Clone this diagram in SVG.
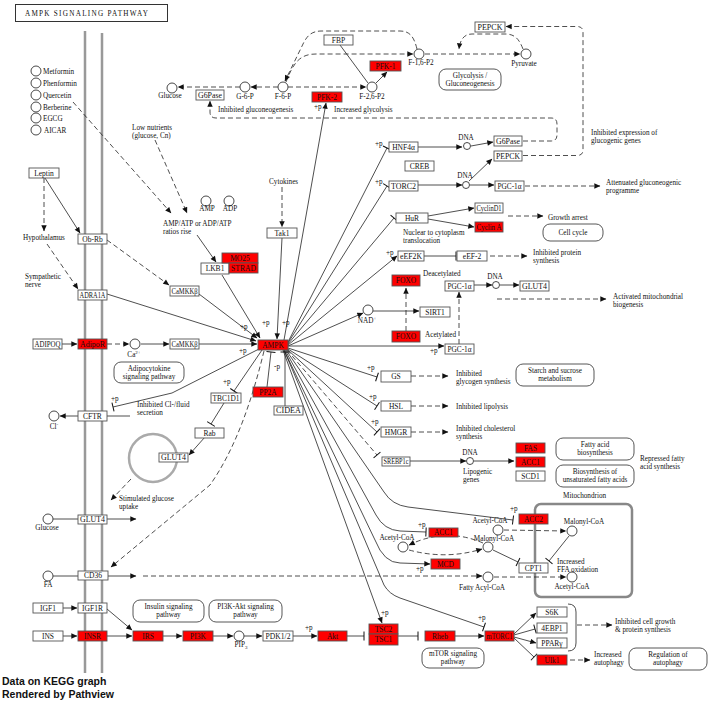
<svg xmlns="http://www.w3.org/2000/svg" width="709" height="701" viewBox="0 0 709 701">
<style>
text{font-family:"Liberation Serif","Times New Roman",serif;font-size:7.2px;fill:#111}
.n rect{fill:#fff;stroke:#555;stroke-width:0.9}
.r rect{fill:#ff0000;stroke:#555;stroke-width:0.9}
.n text,.r text{font-size:7.5px;text-anchor:middle}
.c circle{fill:#fff;stroke:#333;stroke-width:0.9}
.c text{text-anchor:middle}
.pw rect{fill:#fff;stroke:#444;stroke-width:0.9}
.pw text{text-anchor:middle}
#edges path{fill:none;stroke:#222;stroke-width:0.8}
#edges .d{stroke-dasharray:5,3}
#edges .a{marker-end:url(#arr)}
#edges .i{marker-end:url(#bar)}
</style>
<defs>
<marker id="arr" viewBox="0 0 10 10" refX="9.5" refY="5" markerWidth="7" markerHeight="6" orient="auto" markerUnits="userSpaceOnUse"><path d="M0,0.5 L10,5 L0,9.5z" fill="#111"/></marker>
<marker id="bar" viewBox="-2 -5 4 10" refX="0" refY="0" markerWidth="4" markerHeight="10" orient="auto" markerUnits="userSpaceOnUse"><path d="M0,-4.5 V4.5" stroke="#111" stroke-width="1"/></marker>
</defs>
<rect width="709" height="701" fill="#fff"/>

<g id="title"><rect x="15.5" y="4.5" width="152" height="17" fill="#fff" stroke="#333"/><text x="25" y="16" font-size="9" textLength="123">AMPK SIGNALING PATHWAY</text></g>

<g id="membrane" stroke="#999" stroke-width="2.5"><line x1="85" y1="31" x2="85" y2="673"/><line x1="102" y1="33" x2="102" y2="673"/></g>
<g id="vesicle"><circle cx="153" cy="458" r="24" fill="none" stroke="#aaa" stroke-width="2.5"/></g>
<g id="mitochondrion"><rect x="535" y="504" width="97" height="93" rx="6" fill="none" stroke="#888" stroke-width="2.5"/><text x="563" y="498">Mitochondrion</text></g>

<g id="edges">
<path class="d a" d="M240,87 H178"/>
<path class="d a" d="M278,87 H251"/>
<path class="d a" d="M288,87 H366"/>
<path class="d a" d="M286,82 C293,64 299,54 316,54 H413"/>
<path class="d a" d="M417,49 C414,37 410,31 400,31 H322 C312,31 308,35 304,42 L285,81"/>
<path d="M340,45 L368,83"/>
<path class="a" d="M376,83 L387,72"/>
<path class="d a" d="M425,54 H520"/>
<path class="d a" d="M523,49 C519,39 515,34 505,34 H472 C464,34 460,40 459,49"/>
<path class="d a" d="M523,155.5 H577 Q583,155.5 583,150 V32 Q583,26.5 577,26.5 H506"/>
<path class="d a" d="M523,141 H551 Q557,141 557,135 V124 Q557,118 551,118 H216 Q210,118 210,112 V101"/>
<path class="a" d="M284,340 L326,103"/>
<path class="i" d="M288,342 L387,148"/>
<path class="i" d="M288,343 L387,186"/>
<path class="i" d="M288,344 L394,218"/>
<path class="a" d="M288,345 L397,256"/>
<path class="a" d="M288,346 L363,313"/>
<path class="a" d="M288,346 H444"/>
<path class="i" d="M288,348 L377,377"/>
<path class="i" d="M288,349 L377,406"/>
<path class="i" d="M288,350 L377,432"/>
<path class="d i" d="M287,350 L377,455"/>
<path class="i" d="M286,350 L384,492 Q392,505 408,507 L513,520"/>
<path class="i" d="M285,350 L376,515 Q384,530 400,531 L426,532"/>
<path class="a" d="M284,350 L375,540 Q384,563 400,563 L430,564"/>
<path class="a" d="M283,350 L382,623"/>
<path class="i" d="M284,350 L384,585 Q389,594 400,598 L484,627"/>
<path class="a" d="M222,275 L260,338"/>
<path class="a" d="M199,294 L257,338"/>
<path class="a" d="M107,294 L256,341"/>
<path class="a" d="M199,344 H257"/>
<path class="a" d="M282,238 L277,339"/>
<path class="d a" d="M282,187 V227"/>
<path class="a" d="M197,235 L216,262"/>
<path class="d a" d="M73,102 L171,213"/>
<path class="d a" d="M155,140 L187,213"/>
<path class="a" d="M45,178 L80,233"/>
<path class="d a" d="M44,178 V231"/>
<path class="d a" d="M47,244 L78,289"/>
<path class="d a" d="M107,240 L169,285"/>
<path class="a" d="M62,344 H77"/>
<path class="d a" d="M107,344 H129"/>
<path class="a" d="M141,344 H169"/>
<path class="i" d="M262,350 L234,391"/>
<path class="i" d="M259,349 L172,393 L113,407"/>
<path class="d a" d="M264,351 C252,400 236,448 210,485 L111,567"/>
<path class="i" d="M267,387 L271,352"/>
<path class="i" d="M285,406 V352"/>
<path class="i" d="M224,403 L211,424"/>
<path class="a" d="M205,437 L189,455"/>
<path class="d a" d="M131,479 L111,500"/>
<path class="a" d="M78,416 H60"/>
<path d="M107,416 H130"/>
<path d="M53,519 H78"/>
<path class="a" d="M107,519 H136"/>
<path d="M53,576 H78"/>
<path class="a" d="M108,576 H136"/>
<path class="d a" d="M143,576 H482"/>
<path class="d a" d="M494,577 H566"/>
<path class="d a" d="M504,530 L566,531"/>
<path class="i" d="M569,536 L549,561"/>
<path class="i" d="M493,550 L518,562"/>
<path class="d a" d="M483,543 Q446,527 409,545"/>
<path class="d a" d="M409,550 Q446,560 482,549"/>
<path class="a" d="M63,608 H77"/>
<path class="a" d="M63,636 H77"/>
<path class="a" d="M107,609 L132,630"/>
<path class="a" d="M107,636 H132"/>
<path class="a" d="M163,636 H182"/>
<path class="a" d="M213,636 H233"/>
<path class="a" d="M244,636 H262"/>
<path class="a" d="M293,636 H317"/>
<path class="i" d="M347,636 H364"/>
<path class="i" d="M398,636 H418"/>
<path class="a" d="M455,636 H484"/>
<path class="a" d="M514,634 L536,613"/>
<path class="i" d="M514,635 L535,629"/>
<path class="a" d="M514,637 L536,643"/>
<path class="i" d="M514,638 L534,657"/>
<path d="M568,604 Q576,604 576,612 V643 Q576,651 568,651"/>
<path class="d a" d="M577,625 H612"/>
<path class="d a" d="M570,660 H590"/>
<path class="a" d="M418,147 H462"/>
<path class="a" d="M471,146 L493,142"/>
<path class="a" d="M469,181 L492,159"/>
<path class="a" d="M418,185 H462"/>
<path class="a" d="M470,185 H494"/>
<path class="d a" d="M525,186 H600"/>
<path class="a" d="M428,216 L474,208"/>
<path class="a" d="M428,219 L474,227"/>
<path class="d a" d="M508,216 H543"/>
<path class="i" d="M424,256 H456"/>
<path class="d a" d="M490,256 H527"/>
<path class="d a" d="M406,331 V288"/>
<path class="a" d="M373,311 H419"/>
<path class="d a" d="M459,344 V292"/>
<path class="a" d="M474,285 H492"/>
<path class="a" d="M500,285 H519"/>
<path class="d a" d="M497,299 H606"/>
<path class="d a" d="M411,376 H448"/>
<path class="d a" d="M411,406 H448"/>
<path class="d a" d="M411,432 H448"/>
<path class="a" d="M410,461 H466"/>
<path class="a" d="M474,461 H514"/>
</g>

<g id="g_g6pase1" class="n"><rect x="196" y="90" width="28" height="10"/><text x="210" y="97.7" textLength="24" lengthAdjust="spacingAndGlyphs">G6Pase</text></g>
<g id="g_fbp" class="n"><rect x="324" y="35" width="29" height="10"/><text x="338.5" y="42.7">FBP</text></g>
<g id="g_pfk1" class="r"><rect x="370" y="61" width="31" height="10"/><text x="385.5" y="68.7">PFK-1</text></g>
<g id="g_pfk2" class="r"><rect x="312" y="92" width="30" height="10"/><text x="327" y="99.7">PFK-2</text></g>
<g id="g_pepck1" class="n"><rect x="475" y="22" width="30" height="10"/><text x="490" y="29.7" textLength="25" lengthAdjust="spacingAndGlyphs">PEPCK</text></g>
<g id="g_hnf4a" class="n"><rect x="389" y="142" width="29" height="10"/><text x="403.5" y="149.7">HNF4α</text></g>
<g id="g_creb" class="n"><rect x="405" y="161" width="29" height="10"/><text x="419.5" y="168.7">CREB</text></g>
<g id="g_g6pase2" class="n"><rect x="494" y="136" width="28" height="10"/><text x="508" y="143.7" textLength="24" lengthAdjust="spacingAndGlyphs">G6Pase</text></g>
<g id="g_pepck2" class="n"><rect x="494" y="151" width="28" height="10"/><text x="508" y="158.7" textLength="24" lengthAdjust="spacingAndGlyphs">PEPCK</text></g>
<g id="g_torc2" class="n"><rect x="389" y="181" width="29" height="10"/><text x="403.5" y="188.7" textLength="25" lengthAdjust="spacingAndGlyphs">TORC2</text></g>
<g id="g_pgc1a1" class="n"><rect x="495" y="181" width="29" height="10"/><text x="509.5" y="188.7" textLength="24" lengthAdjust="spacingAndGlyphs">PGC-1α</text></g>
<g id="g_hur" class="n"><rect x="396" y="213" width="32" height="10"/><text x="412" y="220.7">HuR</text></g>
<g id="g_cyclind1" class="n"><rect x="475" y="203" width="28" height="10"/><text x="489" y="210.7" textLength="25" lengthAdjust="spacingAndGlyphs">CyclinD1</text></g>
<g id="g_cyclina" class="r"><rect x="475" y="222" width="28" height="10"/><text x="489" y="229.7" textLength="25" lengthAdjust="spacingAndGlyphs">Cyclin A</text></g>
<g id="g_eef2k" class="n"><rect x="398" y="251" width="26" height="10"/><text x="411" y="258.7" textLength="22" lengthAdjust="spacingAndGlyphs">eEF2K</text></g>
<g id="g_eef2" class="n"><rect x="457" y="251" width="30" height="10"/><text x="472" y="258.7">eEF-2</text></g>
<g id="g_foxo1" class="r"><rect x="392" y="275" width="28" height="11"/><text x="406" y="283.2">FOXO</text></g>
<g id="g_foxo2" class="r"><rect x="392" y="331" width="28" height="11"/><text x="406" y="339.2">FOXO</text></g>
<g id="g_sirt1" class="n"><rect x="420" y="307" width="30" height="10"/><text x="435" y="314.7">SIRT1</text></g>
<g id="g_pgc1a2" class="n"><rect x="445" y="281" width="29" height="10"/><text x="459.5" y="288.7" textLength="24" lengthAdjust="spacingAndGlyphs">PGC-1α</text></g>
<g id="g_glut4r" class="n"><rect x="520" y="281" width="29" height="10"/><text x="534.5" y="288.7" textLength="25" lengthAdjust="spacingAndGlyphs">GLUT4</text></g>
<g id="g_pgc1a3" class="n"><rect x="445" y="344" width="29" height="10"/><text x="459.5" y="351.7" textLength="24" lengthAdjust="spacingAndGlyphs">PGC-1α</text></g>
<g id="g_ampk" class="r"><rect x="258" y="340" width="30" height="10"/><text x="273" y="347.7">AMPK</text></g>
<g id="g_leptin" class="n"><rect x="29" y="168" width="30" height="10"/><text x="44" y="175.7">Leptin</text></g>
<g id="g_obrb" class="n"><rect x="78" y="234" width="29" height="10"/><text x="92.5" y="241.7">Ob-Rb</text></g>
<g id="g_adra1a" class="n"><rect x="78" y="290" width="29" height="10"/><text x="92.5" y="297.7" textLength="26" lengthAdjust="spacingAndGlyphs">ADRA1A</text></g>
<g id="g_camkkb1" class="n"><rect x="170" y="286" width="29" height="10"/><text x="184.5" y="293.7" textLength="26" lengthAdjust="spacingAndGlyphs">CaMKKβ</text></g>
<g id="g_adipoq" class="n"><rect x="33" y="339" width="29" height="10"/><text x="47.5" y="346.7" textLength="26" lengthAdjust="spacingAndGlyphs">ADIPOQ</text></g>
<g id="g_adipor" class="r"><rect x="78" y="339" width="29" height="10"/><text x="92.5" y="346.7" textLength="25" lengthAdjust="spacingAndGlyphs">AdipoR</text></g>
<g id="g_camkkb2" class="n"><rect x="170" y="339" width="29" height="10"/><text x="184.5" y="346.7" textLength="26" lengthAdjust="spacingAndGlyphs">CaMKKβ</text></g>
<g id="g_lkb1" class="n"><rect x="201" y="263" width="28" height="11"/><text x="215" y="271.2">LKB1</text></g>
<g id="g_mo25" class="r"><rect x="222" y="253" width="36" height="10"/><text x="240" y="260.7">MO25</text></g>
<g id="g_strad" class="r"><rect x="229" y="263" width="29" height="10"/><text x="243.5" y="270.7" textLength="25" lengthAdjust="spacingAndGlyphs">STRAD</text></g>
<g id="g_tak1" class="n"><rect x="267" y="228" width="30" height="10"/><text x="282" y="235.7">Tak1</text></g>
<g id="g_tbc1d1" class="n"><rect x="211" y="393" width="30" height="10"/><text x="226" y="400.7" textLength="27" lengthAdjust="spacingAndGlyphs">TBC1D1</text></g>
<g id="g_rab" class="n"><rect x="195" y="428" width="29" height="10"/><text x="209.5" y="435.7">Rab</text></g>
<g id="g_glut4c" class="n"><rect x="159" y="453" width="29" height="9"/><text x="173.5" y="460.2" textLength="25" lengthAdjust="spacingAndGlyphs">GLUT4</text></g>
<g id="g_cftr" class="n"><rect x="78" y="411" width="29" height="10"/><text x="92.5" y="418.7">CFTR</text></g>
<g id="g_glut4m" class="n"><rect x="78" y="515" width="29" height="9"/><text x="92.5" y="522.2" textLength="25" lengthAdjust="spacingAndGlyphs">GLUT4</text></g>
<g id="g_cd36" class="n"><rect x="78" y="571" width="30" height="9"/><text x="93" y="578.2">CD36</text></g>
<g id="g_pp2a" class="r"><rect x="253" y="387" width="30" height="10"/><text x="268" y="394.7">PP2A</text></g>
<g id="g_cidea" class="n"><rect x="274" y="406" width="29" height="9"/><text x="288.5" y="413.2" textLength="25" lengthAdjust="spacingAndGlyphs">CIDEA</text></g>
<g id="g_gs" class="n"><rect x="381" y="371" width="30" height="11"/><text x="396" y="379.2">GS</text></g>
<g id="g_hsl" class="n"><rect x="381" y="401" width="30" height="10"/><text x="396" y="408.7">HSL</text></g>
<g id="g_hmgr" class="n"><rect x="381" y="427" width="30" height="10"/><text x="396" y="434.7">HMGR</text></g>
<g id="g_srebp1c" class="n"><rect x="382" y="457" width="28" height="9"/><text x="396" y="464.2" textLength="25" lengthAdjust="spacingAndGlyphs">SREBP1c</text></g>
<g id="g_fas" class="r"><rect x="516" y="443" width="29" height="10"/><text x="530.5" y="450.7">FAS</text></g>
<g id="g_acc1a" class="r"><rect x="516" y="457" width="29" height="10"/><text x="530.5" y="464.7">ACC1</text></g>
<g id="g_scd1" class="n"><rect x="516" y="471" width="29" height="10"/><text x="530.5" y="478.7">SCD1</text></g>
<g id="g_acc2" class="r"><rect x="519" y="514" width="29" height="10"/><text x="533.5" y="521.7">ACC2</text></g>
<g id="g_acc1b" class="r"><rect x="429" y="528" width="29" height="9"/><text x="443.5" y="535.2">ACC1</text></g>
<g id="g_mcd" class="r"><rect x="431" y="559" width="29" height="10"/><text x="445.5" y="566.7">MCD</text></g>
<g id="g_cpt1" class="n"><rect x="519" y="563" width="29" height="10"/><text x="533.5" y="570.7">CPT1</text></g>
<g id="g_igf1" class="n"><rect x="33" y="603" width="30" height="10"/><text x="48" y="610.7">IGF1</text></g>
<g id="g_igf1r" class="n"><rect x="78" y="603" width="29" height="10"/><text x="92.5" y="610.7">IGF1R</text></g>
<g id="g_ins" class="n"><rect x="33" y="631" width="30" height="10"/><text x="48" y="638.7">INS</text></g>
<g id="g_insr" class="r"><rect x="78" y="631" width="29" height="10"/><text x="92.5" y="638.7">INSR</text></g>
<g id="g_irs" class="r"><rect x="133" y="631" width="30" height="10"/><text x="148" y="638.7">IRS</text></g>
<g id="g_pi3k" class="r"><rect x="183" y="631" width="30" height="10"/><text x="198" y="638.7">PI3K</text></g>
<g id="g_pdk" class="n"><rect x="263" y="631" width="30" height="10"/><text x="278" y="638.7" textLength="25" lengthAdjust="spacingAndGlyphs">PDK1/2</text></g>
<g id="g_akt" class="r"><rect x="318" y="631" width="29" height="10"/><text x="332.5" y="638.7">Akt</text></g>
<g id="g_tsc2" class="r"><rect x="369" y="624" width="29" height="10"/><text x="383.5" y="631.7">TSC2</text></g>
<g id="g_tsc1" class="r"><rect x="369" y="634" width="29" height="11"/><text x="383.5" y="642.2">TSC1</text></g>
<g id="g_rheb" class="r"><rect x="425" y="631" width="30" height="10"/><text x="440" y="638.7">Rheb</text></g>
<g id="g_mtorc1" class="r"><rect x="485" y="631" width="29" height="10"/><text x="499.5" y="638.7" textLength="26" lengthAdjust="spacingAndGlyphs">mTORC1</text></g>
<g id="g_s6k" class="n"><rect x="537" y="607" width="30" height="10"/><text x="552" y="614.7">S6K</text></g>
<g id="g_4ebp1" class="n"><rect x="537" y="623" width="30" height="10"/><text x="552" y="630.7">4EBP1</text></g>
<g id="g_pparg" class="n"><rect x="537" y="638" width="30" height="10"/><text x="552" y="645.7">PPARγ</text></g>
<g id="g_ulk1" class="r"><rect x="537" y="655" width="30" height="10"/><text x="552" y="662.7">Ulk1</text></g>

<g id="c_metformin" class="c"><circle cx="36" cy="71" r="5"/><text x="43" y="74" style="text-anchor:start">Metformin</text></g>
<g id="c_phenformin" class="c"><circle cx="36" cy="83" r="5"/><text x="43" y="86" style="text-anchor:start">Phenformin</text></g>
<g id="c_quercetin" class="c"><circle cx="36" cy="95" r="5"/><text x="43" y="98" style="text-anchor:start">Quercetin</text></g>
<g id="c_berberine" class="c"><circle cx="36" cy="107" r="5"/><text x="43" y="110" style="text-anchor:start">Berberine</text></g>
<g id="c_egcg" class="c"><circle cx="36" cy="118" r="5"/><text x="43" y="121" style="text-anchor:start">EGCG</text></g>
<g id="c_aicar" class="c"><circle cx="36" cy="130" r="5"/><text x="44" y="133" style="text-anchor:start">AICAR</text></g>
<g id="c_glucose1" class="c"><circle cx="172" cy="88" r="5"/><text x="170" y="98">Glucose</text></g>
<g id="c_g6p" class="c"><circle cx="245" cy="87" r="5"/><text x="245" y="99">G-6-P</text></g>
<g id="c_f6p" class="c"><circle cx="283" cy="87" r="5"/><text x="283" y="99">F-6-P</text></g>
<g id="c_f26p2" class="c"><circle cx="372" cy="87" r="5"/><text x="372" y="99">F-2,6-P2</text></g>
<g id="c_f16p2" class="c"><circle cx="419" cy="54" r="5"/><text x="421" y="65">F-1,6-P2</text></g>
<g id="c_pyruvate" class="c"><circle cx="526" cy="54" r="5"/><text x="524" y="66">Pyruvate</text></g>
<g id="c_dna1" class="c"><circle cx="467" cy="146" r="3.5"/><text x="466" y="140">DNA</text></g>
<g id="c_dna2" class="c"><circle cx="466" cy="185" r="3.5"/><text x="465" y="178">DNA</text></g>
<g id="c_dna3" class="c"><circle cx="496" cy="285" r="3.5"/><text x="495" y="279">DNA</text></g>
<g id="c_dna4" class="c"><circle cx="470" cy="461" r="3.5"/><text x="470" y="455">DNA</text></g>
<g id="c_amp" class="c"><circle cx="206" cy="201" r="5"/><text x="207" y="211">AMP</text></g>
<g id="c_adp" class="c"><circle cx="229" cy="201" r="5"/><text x="230" y="211">ADP</text></g>
<g id="c_ca" class="c"><circle cx="135" cy="344" r="5"/><text x="134" y="357">Ca<tspan dy="-3" font-size="5">2+</tspan></text></g>
<g id="c_nad" class="c"><circle cx="368" cy="310" r="5"/><text x="367" y="323">NAD<tspan dy="-3" font-size="5">+</tspan></text></g>
<g id="c_cl" class="c"><circle cx="54" cy="416" r="5"/><text x="54" y="429">Cl<tspan dy="-3" font-size="5">-</tspan></text></g>
<g id="c_glucose2" class="c"><circle cx="48" cy="519" r="5"/><text x="47" y="530">Glucose</text></g>
<g id="c_fa" class="c"><circle cx="48" cy="576" r="5"/><text x="48" y="587">FA</text></g>
<g id="c_pip3" class="c"><circle cx="239" cy="636" r="5"/><text x="241" y="647">PIP<tspan dy="1.5" font-size="5">3</tspan></text></g>
<g id="c_accoa1" class="c"><circle cx="498" cy="530" r="5"/><text x="490" y="523">Acetyl-CoA</text></g>
<g id="c_malcoa1" class="c"><circle cx="572" cy="531" r="5"/><text x="584" y="524">Malonyl-CoA</text></g>
<g id="c_accoa2" class="c"><circle cx="403" cy="547" r="5"/><text x="397" y="540">Acetyl-CoA</text></g>
<g id="c_malcoa2" class="c"><circle cx="488" cy="547" r="5"/><text x="494" y="541">Malonyl-CoA</text></g>
<g id="c_facoa" class="c"><circle cx="488" cy="577" r="5"/><text x="482" y="590">Fatty Acyl-CoA</text></g>
<g id="c_accoa3" class="c"><circle cx="572" cy="577" r="5"/><text x="572" y="589">Acetyl-CoA</text></g>

<g id="pw_glycolysis" class="pw"><rect x="439" y="69" width="62" height="21" rx="7"/><text x="470" y="77.5">Glycolysis /</text><text x="470" y="85.5">Gluconeogenesis</text></g>
<g id="pw_cellcycle" class="pw"><rect x="543" y="224" width="60" height="17" rx="7"/><text x="573" y="235">Cell cycle</text></g>
<g id="pw_adipo" class="pw"><rect x="114" y="362" width="70" height="21" rx="7"/><text x="149" y="370.5">Adipocytokine</text><text x="149" y="378.5">signaling pathway</text></g>
<g id="pw_starch" class="pw"><rect x="516" y="364" width="78" height="22" rx="7"/><text x="555" y="373">Starch and sucrose</text><text x="555" y="381">metabolism</text></g>
<g id="pw_fab" class="pw"><rect x="556" y="438" width="78" height="22" rx="7"/><text x="595" y="447">Fatty acid</text><text x="595" y="455">biosynthesis</text></g>
<g id="pw_unsat" class="pw"><rect x="556" y="465" width="78" height="22" rx="7"/><text x="595" y="474">Biosynthesis of</text><text x="595" y="482">unsaturated fatty acids</text></g>
<g id="pw_insulin" class="pw"><rect x="133" y="600" width="71" height="22" rx="7"/><text x="168.5" y="609">Insulin signaling</text><text x="168.5" y="617">pathway</text></g>
<g id="pw_pi3k" class="pw"><rect x="209" y="600" width="73" height="22" rx="7"/><text x="245.5" y="609">PI3K-Akt signaling</text><text x="245.5" y="617">pathway</text></g>
<g id="pw_mtor" class="pw"><rect x="422" y="648" width="62" height="20" rx="7"/><text x="453" y="656">mTOR signaling</text><text x="453" y="664">pathway</text></g>
<g id="pw_autophagy" class="pw"><rect x="629" y="648" width="78" height="22" rx="7"/><text x="668" y="657">Regulation of</text><text x="668" y="665">autophagy</text></g>

<g id="labels">
<text x="132" y="130">Low nutrients</text><text x="132" y="138">(glucose, Cn)</text>
<text x="23" y="240">Hypothalamus</text>
<text x="25" y="279">Sympathetic</text><text x="25" y="287">nerve</text>
<text x="163" y="226">AMP/ATP or ADP/ATP</text><text x="163" y="234">ratios rise</text>
<text x="269" y="184">Cytokines</text>
<text x="218" y="112">Inhibited gluconeogenesis</text>
<text x="334" y="112">Increased glycolysis</text>
<text x="591" y="135">Inhibited expression of</text><text x="591" y="143">glucogenic genes</text>
<text x="606" y="185">Attenuated gluconeogenic</text><text x="606" y="193">programme</text>
<text x="548" y="220">Growth arrest</text>
<text x="403" y="235">Nuclear to cytoplasm</text><text x="403" y="243">translocation</text>
<text x="533" y="255">Inhibited protein</text><text x="533" y="263">synthesis</text>
<text x="423" y="276">Deacetylated</text>
<text x="425" y="337">Acetylated</text>
<text x="613" y="299">Activated mitochondrial</text><text x="613" y="307">biogenesis</text>
<text x="456" y="376">Inhibited</text><text x="456" y="384">glycogen synthesis</text>
<text x="456" y="409">Inhibited lipolysis</text>
<text x="456" y="431">Inhibited cholesterol</text><text x="456" y="439">synthesis</text>
<text x="463" y="474">Lipogenic</text><text x="463" y="482">genes</text>
<text x="640" y="461">Repressed fatty</text><text x="640" y="469">acid synthesis</text>
<text x="557" y="564">Increased</text><text x="557" y="572">FFA oxidation</text>
<text x="119" y="501">Stimulated glucose</text><text x="119" y="509">uptake</text>
<text x="137" y="407">Inhibited Cl-/fluid</text><text x="137" y="415">secretion</text>
<text x="615" y="624">Inhibited cell growth</text><text x="615" y="632">&amp; protein synthesis</text>
<text x="594" y="657">Increased</text><text x="594" y="665">autophagy</text>
<text x="314" y="109">+p</text>
<text x="375" y="146">+p</text>
<text x="375" y="184">+p</text>
<text x="386" y="255">+p</text>
<text x="240" y="329">+p</text>
<text x="262" y="325">+p</text>
<text x="282" y="325">+p</text>
<text x="239" y="353">+p</text>
<text x="430" y="353">+p</text>
<text x="367" y="370">+p</text>
<text x="369" y="399">+p</text>
<text x="371" y="424">+p</text>
<text x="223" y="384">+p</text>
<text x="111" y="401">+p</text>
<text x="274" y="369">-p</text>
<text x="510" y="511">+p</text>
<text x="418" y="527">+p</text>
<text x="416" y="571">+p</text>
<text x="381" y="615">+p</text>
<text x="478" y="620">+p</text>
<text x="305" y="630">+p</text>
</g>

<g id="footer">
<text x="2" y="685" style="font-family:'Liberation Sans',Arial,sans-serif;font-size:10.5px;font-weight:bold">Data on KEGG graph</text>
<text x="2" y="698" style="font-family:'Liberation Sans',Arial,sans-serif;font-size:10.5px;font-weight:bold">Rendered by Pathview</text>
</g>
</svg>
